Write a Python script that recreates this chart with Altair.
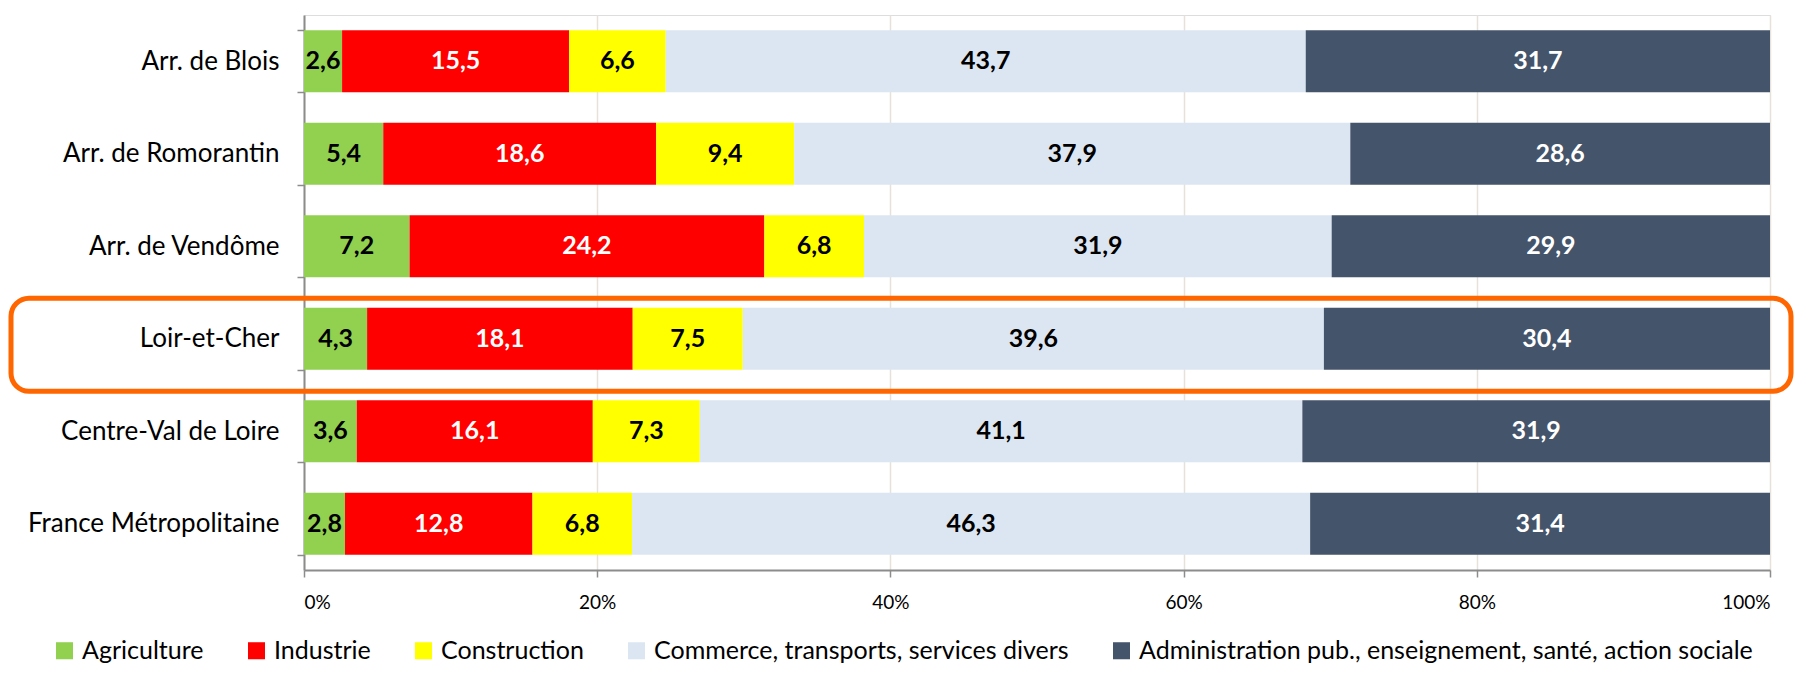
import altair as alt
import pandas as pd

regions = ["Arr. de Blois", "Arr. de Romorantin", "Arr. de Vendôme", "Loir-et-Cher",
           "Centre-Val de Loire", "France Métropolitaine"]
sectors = ["Agriculture", "Industrie", "Construction",
           "Commerce, transports, services divers",
           "Administration pub., enseignement, santé, action sociale"]
colors = ["#92D050", "#FF0000", "#FFFF00", "#DCE6F2", "#44546A"]

agriculture = [2.6, 5.4, 7.2, 4.3, 3.6, 2.8]
industrie = [15.5, 18.6, 24.2, 18.1, 16.1, 12.8]
construction = [6.6, 9.4, 6.8, 7.5, 7.3, 6.8]
commerce = [43.7, 37.9, 31.9, 39.6, 41.1, 46.3]
administration = [31.7, 28.6, 29.9, 30.4, 31.9, 31.4]

highlight = ["Loir-et-Cher"]
x_ticks = [0, 0.2, 0.4, 0.6, 0.8, 1.0]

series = [agriculture, industrie, construction, commerce, administration]
rows = []
for si, (sec, vals) in enumerate(zip(sectors, series)):
    for reg, v in zip(regions, vals):
        rows.append({"region": reg, "sector": sec, "value": v, "ord": si})
df = pd.DataFrame(rows)

FONT = "Lato"
W, H = 1466, 555

base = alt.Chart(df).transform_stack(
    stack="value", groupby=["region"], as_=["x0", "x1"], offset="normalize",
    sort=[alt.SortField("ord", order="ascending")]
).transform_calculate(
    mid="(datum.x0 + datum.x1) / 2",
    label="replace(format(datum.value, '.1f'), '.', ',')"
)

yenc = alt.Y("region:N", sort=regions, title=None,
             scale=alt.Scale(paddingInner=0.33, paddingOuter=0.165),
             axis=alt.Axis(labelFontSize=26, labelPadding=18, labelColor="black",
                           labelLimit=0,
                           domainColor="#8C8C8C", domainWidth=2, ticks=True,
                           tickBand="extent", tickSize=7, tickColor="#8C8C8C",
                           tickWidth=1.5, grid=False, labelFont=FONT))

bars = base.mark_bar().encode(
    x=alt.X("x0:Q", title=None, scale=alt.Scale(domain=[0, 1], nice=False),
            axis=alt.Axis(format=".0%", values=x_ticks, grid=True, gridColor="#E6E2DA",
                          gridWidth=1.5, domainColor="#8C8C8C", domainWidth=2,
                          tickColor="#8C8C8C", tickSize=7, tickWidth=1.5,
                          labelFontSize=19, labelPadding=16, labelColor="black",
                          labelFont=FONT)),
    x2="x1:Q",
    y=yenc,
    color=alt.Color("sector:N", scale=alt.Scale(domain=sectors, range=colors),
                    legend=alt.Legend(title=None, orient="none", direction="horizontal",
                                      legendX=-252, legendY=623, symbolType="square",
                                      symbolSize=290, symbolStrokeWidth=0,
                                      labelFontSize=25, labelFont=FONT, labelLimit=0,
                                      labelColor="black", columnPadding=40,
                                      labelOffset=5, padding=0)),
)

texts = base.mark_text(font=FONT, fontSize=25, fontWeight="bold").encode(
    x="mid:Q",
    y=alt.Y("region:N", sort=regions),
    text="label:N",
    color=alt.condition(
        "datum.ord == 1 || datum.ord == 4", alt.value("white"), alt.value("black")),
)

box = alt.Chart(pd.DataFrame({"region": highlight})).mark_rect(
    filled=False, stroke="#FF6600", strokeWidth=5, cornerRadius=18,
    height={"band": 1.5}
).encode(
    y=alt.Y("region:N", sort=regions),
    yOffset=alt.value(6),
    x=alt.value(-293),
    x2=alt.value(W + 21),
)

chart = alt.layer(bars, texts, box).properties(
    width=W, height=H,
    autosize=alt.AutoSizeParams(type="none"),
    padding={"left": 296, "top": 7, "right": 24, "bottom": 96}
).configure_view(stroke=None).configure(font=FONT)

chart.save("out.html", embed_options={"renderer": "svg", "actions": False})
